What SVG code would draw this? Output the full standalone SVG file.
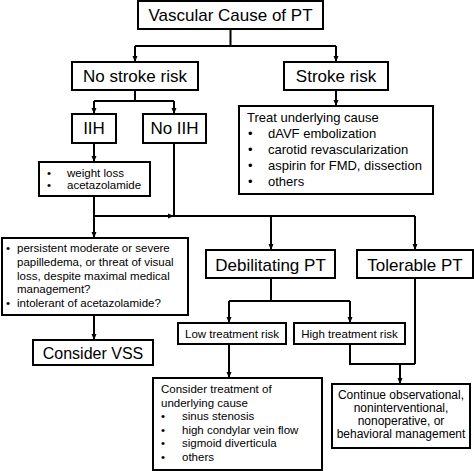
<svg xmlns="http://www.w3.org/2000/svg" width="474" height="471" viewBox="0 0 474 471">
<defs>
<marker id="ah" markerUnits="userSpaceOnUse" markerWidth="6" markerHeight="6" viewBox="0 0 6 6" refX="6" refY="3" orient="auto">
<path d="M0,0.5 L6,3 L0,5.5 Z" fill="#000"/>
</marker>
<style>
rect{fill:#fff;stroke:#000;stroke-width:2}
text{font-family:"Liberation Sans",Arial,sans-serif;fill:#000}
.l{font-size:17px;text-anchor:middle}
.m{font-size:13px}
.s{font-size:11.5px}
.c{text-anchor:middle}
#conn path{fill:none;stroke:#000;stroke-width:2}
.a{marker-end:url(#ah)}
</style>
</defs>
<rect x="0" y="0" width="474" height="471" style="fill:#fff;stroke:none"/>
<g id="conn">
<path d="M230.5 29 V46 M135 46 H336"/>
<path class="a" d="M135 46 V62"/>
<path class="a" d="M336 46 V62"/>
<path d="M135 90 V101 M94 101 H174"/>
<path class="a" d="M94 101 V114"/>
<path class="a" d="M174 101 V114"/>
<path class="a" d="M336 90 V106"/>
<path class="a" d="M94 143 V162"/>
<path class="a" d="M94 196 V238"/>
<path class="a" d="M94 216 H174"/>
<path d="M174 143 V216 H415"/>
<path class="a" d="M271 216 V250"/>
<path class="a" d="M415 216 V250"/>
<path d="M271 278 V301 M229 301 H350"/>
<path class="a" d="M229 301 V323"/>
<path class="a" d="M350 301 V323"/>
<path class="a" d="M94 315 V340"/>
<path class="a" d="M229 344 V378"/>
<path d="M350 344 V364 H415 M415 278 V364"/>
<path class="a" d="M400 364 V384"/>
</g>
<g id="vascular">
<rect x="138" y="1" width="185" height="28"/>
<text class="l" x="230.5" y="21">Vascular Cause of PT</text>
</g>
<g id="nostroke">
<rect x="72" y="62" width="126" height="28"/>
<text class="l" x="135" y="82">No stroke risk</text>
</g>
<g id="stroke">
<rect x="284" y="62" width="104" height="28"/>
<text class="l" x="336" y="82">Stroke risk</text>
</g>
<g id="iih">
<rect x="72" y="114" width="44" height="29"/>
<text class="l" x="94" y="134">IIH</text>
</g>
<g id="noiih">
<rect x="143" y="114" width="63" height="29"/>
<text class="l" x="174.5" y="134">No IIH</text>
</g>
<g id="treat">
<rect x="239" y="106" width="194" height="88"/>
<text class="m" x="247" y="122">Treat underlying cause</text>
<text class="m" x="248" y="138">•</text><text class="m" x="268" y="138">dAVF embolization</text>
<text class="m" x="248" y="154">•</text><text class="m" x="268" y="154">carotid revascularization</text>
<text class="m" x="248" y="170">•</text><text class="m" x="268" y="170">aspirin for FMD, dissection</text>
<text class="m" x="248" y="186">•</text><text class="m" x="268" y="186">others</text>
</g>
<g id="weight">
<rect x="39" y="162" width="111" height="34"/>
<text class="s" x="47" y="177">•</text><text class="s" x="67" y="177">weight loss</text>
<text class="s" x="47" y="189">•</text><text class="s" x="67" y="189">acetazolamide</text>
</g>
<g id="persistent">
<rect x="2" y="238" width="186" height="77"/>
<text class="s" x="6" y="252">•</text><text class="s" x="17" y="252">persistent moderate or severe</text>
<text class="s" x="17" y="266">papilledema, or threat of visual</text>
<text class="s" x="17" y="279.5">loss, despite maximal medical</text>
<text class="s" x="17" y="293">management?</text>
<text class="s" x="6" y="306.5">•</text><text class="s" x="17" y="306.5">intolerant of acetazolamide?</text>
</g>
<g id="debilitating">
<rect x="206" y="250" width="129" height="28"/>
<text class="l" x="270.5" y="271">Debilitating PT</text>
</g>
<g id="tolerable">
<rect x="357" y="250" width="116" height="28"/>
<text class="l" x="415" y="271">Tolerable PT</text>
</g>
<g id="low">
<rect x="178" y="323" width="108" height="21"/>
<text class="s c" x="232" y="337.5">Low treatment risk</text>
</g>
<g id="high">
<rect x="294" y="323" width="111" height="21"/>
<text class="s c" x="349.5" y="337.5">High treatment risk</text>
</g>
<g id="vss">
<rect x="33" y="340" width="120" height="25"/>
<text class="c" style="font-size:16px" x="93" y="359">Consider VSS</text>
</g>
<g id="consider">
<rect x="153" y="378" width="169" height="92"/>
<text class="s" x="161" y="393">Consider treatment of</text>
<text class="s" x="161" y="406.5">underlying cause</text>
<text class="s" x="161" y="420">•</text><text class="s" x="182" y="420">sinus stenosis</text>
<text class="s" x="161" y="433.5">•</text><text class="s" x="182" y="433.5">high condylar vein flow</text>
<text class="s" x="161" y="447">•</text><text class="s" x="182" y="447">sigmoid diverticula</text>
<text class="s" x="161" y="460.5">•</text><text class="s" x="182" y="460.5">others</text>
</g>
<g id="continue">
<rect x="332" y="384" width="138" height="64"/>
<text class="c" style="font-size:12px" x="401" y="399">Continue observational,</text>
<text class="c" style="font-size:12px" x="401" y="412">noninterventional,</text>
<text class="c" style="font-size:12px" x="401" y="425">nonoperative, or</text>
<text class="c" style="font-size:12px" x="401" y="438">behavioral management</text>
</g>
</svg>
